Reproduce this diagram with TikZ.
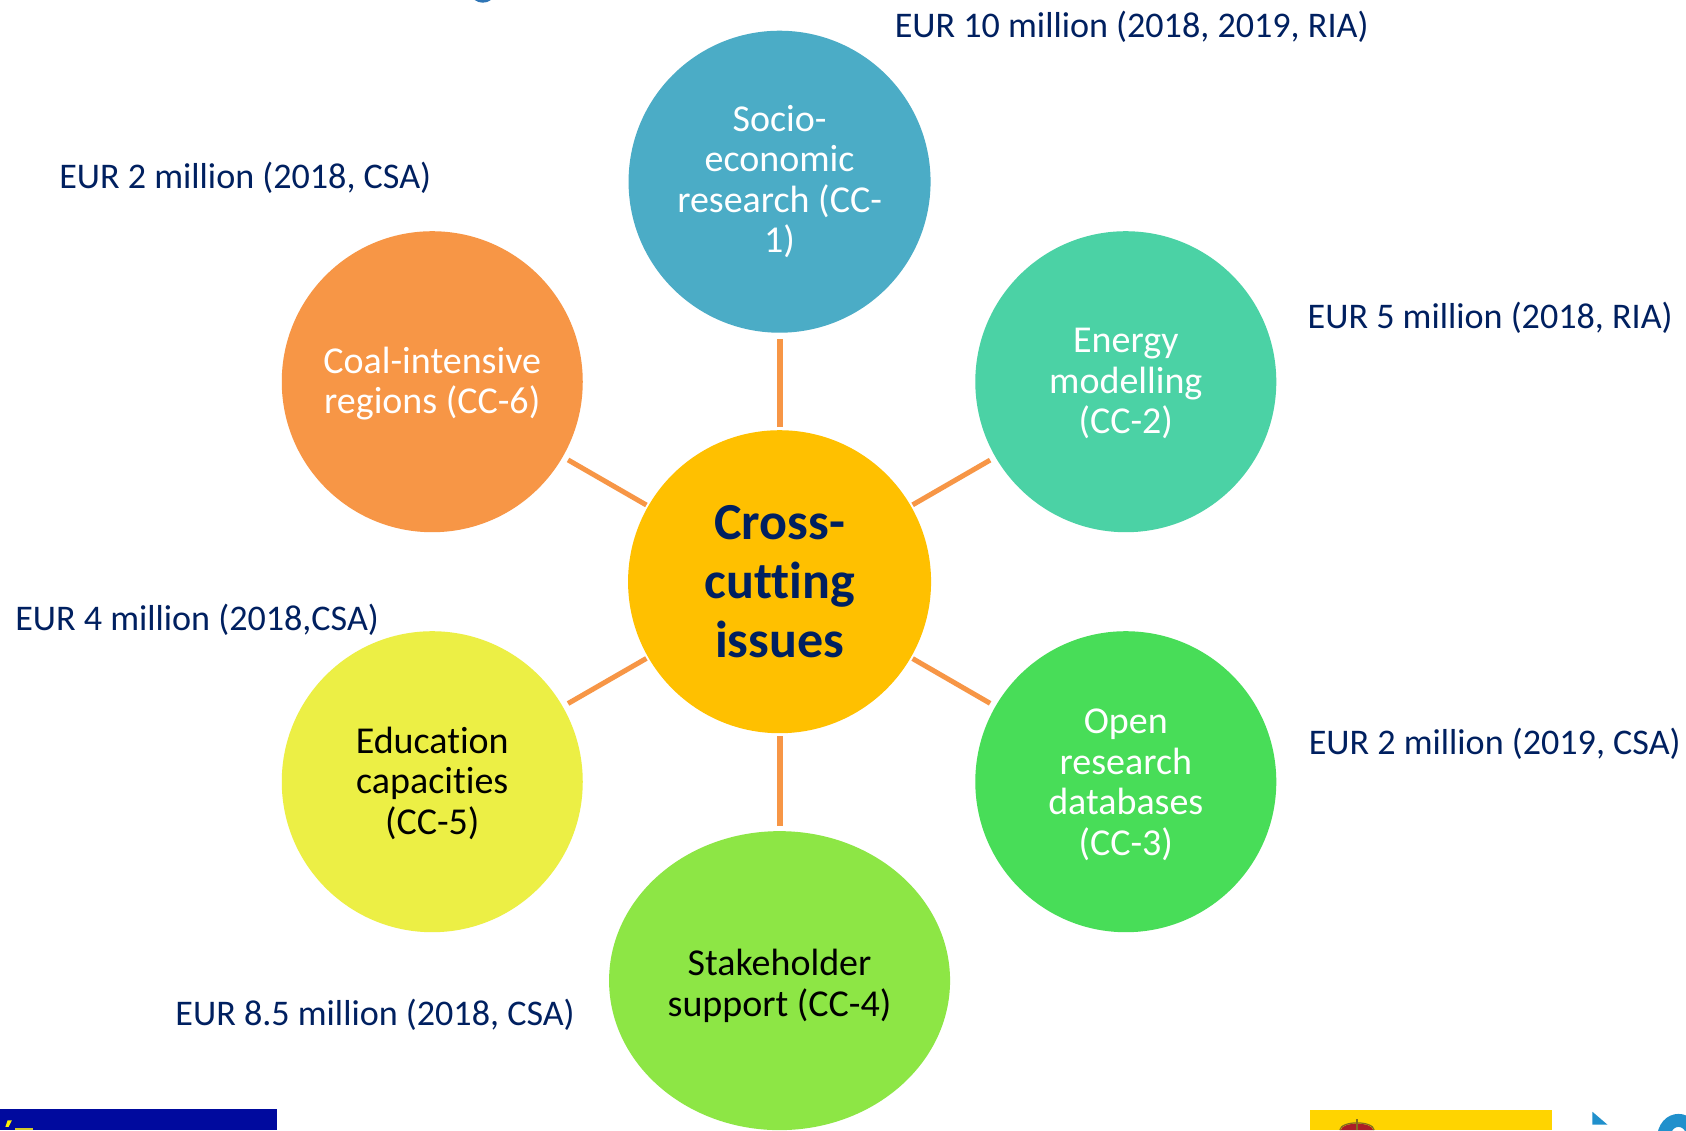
\documentclass[tikz,border=0pt]{standalone}
\usepackage{fontspec}
\setmainfont{Carlito}[Ligatures=CommonOff]
\usetikzlibrary{shapes.geometric}
\definecolor{navy}{HTML}{002060}
\definecolor{linkc}{HTML}{F79646}
\newcommand\firstl[1]{\rule{0pt}{#1}}
\tikzset{
  bub/.style={circle,inner sep=0pt,minimum size=301pt,align=center,text=white,font=\fontsize{38}{40.5}\selectfont},
  elab/.style={anchor=west,inner sep=0pt,text=navy,font=\fontsize{36.1}{40}\selectfont},
  link/.style={draw=linkc,line width=5pt},
  vlink/.style={draw=linkc,line width=6pt},
}
\begin{document}
\begin{tikzpicture}[x=1.07526pt,y=-1.07526pt]
\useasboundingbox (0,0) rectangle (1568,1051);
% cut-off logos at the page edges
\begin{scope}
\clip (0,0) rectangle (1568,1051);
\fill[white] (0,0) rectangle (1568,1051);
\fill[color={rgb,255:red,46;green,117;blue,182}] (436,-8) .. controls (440,6) and (458,6) .. (462,-8) -- cycle;
\fill[color={rgb,255:red,0;green,10;blue,158}] (0,1031) rectangle (258,1051);
\fill[yellow] (7,1042) -- (11,1042) -- (8,1048) -- (5,1048) -- cycle;
\fill[yellow!80!black] (14,1049) rectangle (31,1051);
\fill[color={rgb,255:red,255;green,212;blue,0}] (1218,1032) rectangle (1443,1051);
\fill[color={rgb,255:red,170;green,30;blue,40}] (1247,1051) .. controls (1248,1043) and (1276,1043) .. (1277,1051) -- cycle;
\draw[color={rgb,255:red,130;green,110;blue,30},line width=1.2pt] (1246,1051) .. controls (1247,1042) and (1277,1042) .. (1278,1051);
\draw[color={rgb,255:red,130;green,110;blue,30},line width=1.5pt] (1262,1051) -- (1262,1041);
\fill[color={rgb,255:red,32;green,144;blue,204}] (1481,1034) -- (1481,1046) -- (1495,1046) -- cycle;
\draw[color={rgb,255:red,32;green,144;blue,204},line width=13pt] (1547,1060) .. controls (1547,1036) and (1575,1036) .. (1575,1060);
\end{scope}
% bubbles
\node[bub,minimum size=302pt,fill={rgb,255:red,75;green,172;blue,198}] (cc1) at (725,169) {Socio-\\economic\\research (CC-\\1)};
\node[bub,fill={rgb,255:red,75;green,210;blue,165}] (cc2) at (1047,355) {\firstl{28pt}Energy\\modelling\\(CC-2)};
\node[bub,fill={rgb,255:red,72;green,221;blue,88}] (cc3) at (1047,727) {\firstl{31pt}Open\\research\\databases\\(CC-3)};
\node[bub,ellipse,minimum width=341pt,minimum height=299pt,text=black,fill={rgb,255:red,141;green,230;blue,69}] (cc4) at (725,912) {\firstl{37pt}Stakeholder\\support (CC-4)};
\node[bub,text=black,fill={rgb,255:red,236;green,239;blue,69}] (cc5) at (402,727) {\firstl{29pt}Education\\capacities\\(CC-5)};
\node[bub,fill={rgb,255:red,247;green,150;blue,70}] (cc6) at (402,355) {\firstl{30pt}Coal-intensive\\regions (CC-6)};
\node[bub,minimum size=303pt,text=navy,fill={rgb,255:red,255;green,192;blue,0},font=\fontsize{52}{59}\selectfont\bfseries] (hub) at (725,541) {Cross-\\cutting\\issues};
% connectors
\draw[vlink,shorten <=3pt,shorten >=6pt] (hub) -- (cc1);
\draw[link,shorten <=2pt,shorten >=6pt] (hub) -- (cc2);
\draw[link,shorten <=2pt,shorten >=6pt] (hub) -- (cc3);
\draw[vlink,shorten >=5pt,shorten <=3pt] (hub) -- (cc4);
\draw[link,shorten <=2pt,shorten >=6pt] (hub) -- (cc5);
\draw[link,shorten <=2pt,shorten >=6pt] (hub) -- (cc6);
% funding labels
\node[elab] (l1) at (832,25) {EUR 10 million (2018, 2019, RIA)};
\node[elab] (l2) at (1216,296) {EUR 5 million (2018, RIA)};
\node[elab] (l3) at (1217,692) {EUR 2 million (2019, CSA)};
\node[elab] (l4) at (163,944) {EUR 8.5 million (2018, CSA)};
\node[elab] (l5) at (14,576) {EUR 4 million (2018,CSA)};
\node[elab] (l6) at (55,165) {EUR 2 million (2018, CSA)};
\end{tikzpicture}
\end{document}
